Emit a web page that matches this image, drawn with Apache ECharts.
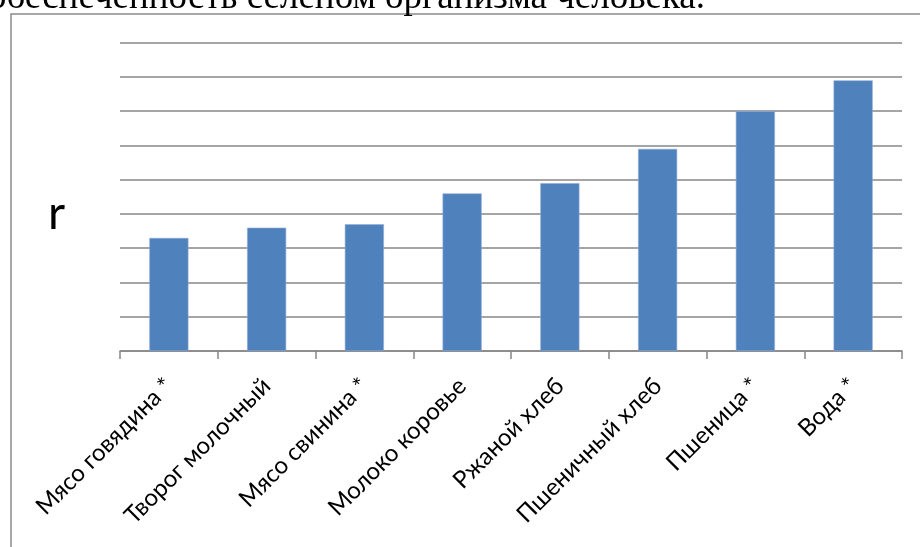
<!DOCTYPE html>
<html>
<head>
<meta charset="utf-8">
<script src="https://cdn.jsdelivr.net/npm/echarts@6/dist/echarts.min.js"></script>
<style>
html,body{margin:0;padding:0;background:#fff;}
#chart{width:920px;height:547px;}
</style>
</head>
<body>
<div id="chart"></div>
<script>
const categories = ['Мясо говядина *','Творог молочный','Мясо свинина *','Молоко коровье','Ржаной хлеб','Пшеничный хлеб','Пшеница *','Вода *'];
const values = [0.33, 0.36, 0.37, 0.46, 0.49, 0.59, 0.70, 0.79];
const captionText = 'обеспеченность селеном организма человека.';
const yAxisLabel = 'r';

const chart = echarts.init(document.getElementById('chart'), null, {renderer:'canvas'});
chart.setOption({
  animation:false,
  backgroundColor:'#ffffff',
  grid:{left:120, right:18, top:42.7, bottom:196, containLabel:false},
  xAxis:{
    type:'category',
    data:categories,
    boundaryGap:true,
    axisLine:{show:true, lineStyle:{color:'#878787', width:1.5}},
    axisTick:{show:true, length:8, lineStyle:{color:'#878787', width:1.5}},
    axisLabel:{rotate:45, margin:31, fontFamily:'Lato', fontSize:24, color:'#000', interval:0}
  },
  yAxis:{
    type:'value', min:0, max:0.9, interval:0.1,
    axisLine:{show:false}, axisTick:{show:false}, axisLabel:{show:false},
    splitLine:{show:true, lineStyle:{color:'#878787', width:1.5}}
  },
  series:[{
    type:'bar', data:values, barWidth:'40%',
    itemStyle:{color:'#4F81BD', borderColor:'#8eabd6', borderWidth:0.6}
  }],
  graphic:[
    {type:'rect', silent:true, shape:{x:11, y:14, width:1000, height:700}, style:{fill:'none', stroke:'#8a8a8a', lineWidth:1.5}, z:-1},
    {type:'text', silent:true, style:{x:-12, y:16.3, text:captionText, font:'37px "Liberation Serif"', fill:'#000', verticalAlign:'bottom'}},
    {type:'text', silent:true, style:{x:48, y:214, text:yAxisLabel, font:'47px Lato', fill:'#000', verticalAlign:'middle'}}
  ]
});
</script>
</body>
</html>
